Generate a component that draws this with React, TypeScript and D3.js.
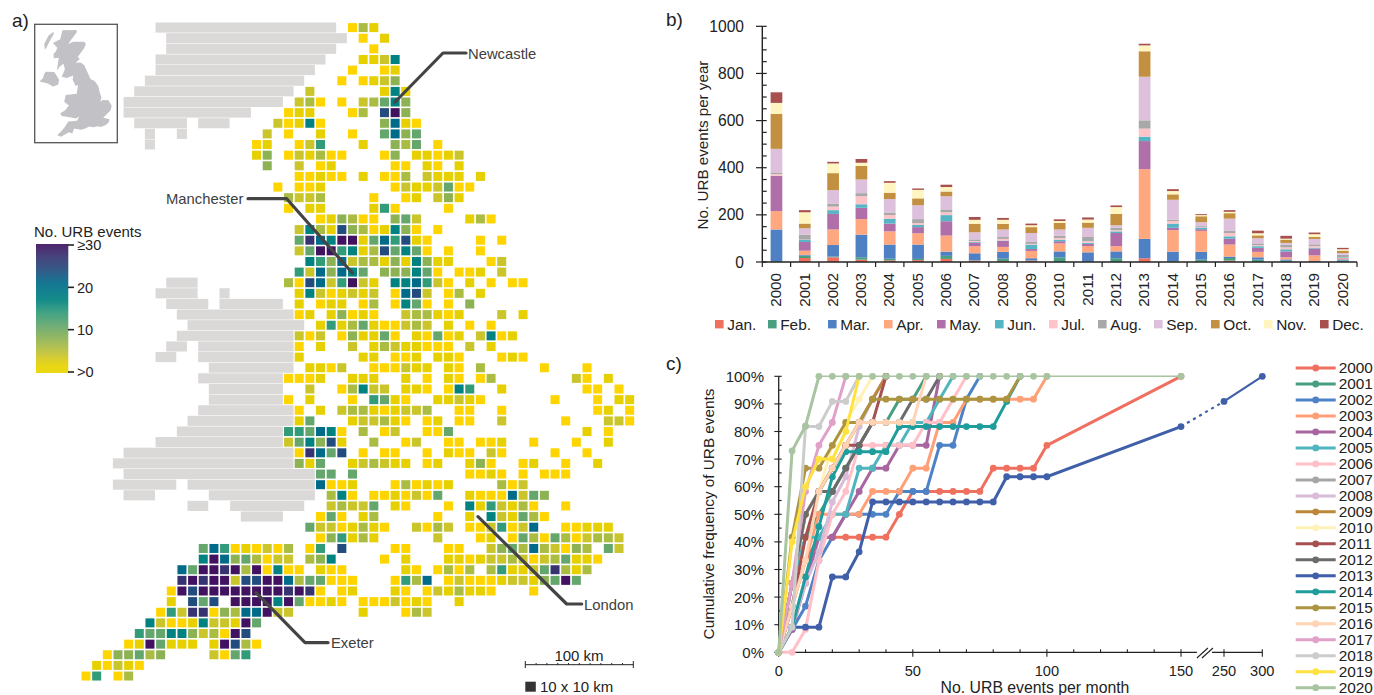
import React from 'react'
import * as d3 from 'd3'

// ---- panel a: gridded counts, one string per grid row, tokens are <column><level>
const eventRows = [
  '25a 26d 27b',
  '26a 28b',
  '27a',
  '26b 27b 28c 29h',
  '25a 28a 29b',
  '24a 26a 27b 28c 29e',
  '21c 28b 29h 30b',
  '20c 21d 22a 24a 26c 27d 28f 29h 30e',
  '19a 20b 21b 25a 26d 28j 29l 30e',
  '18c 19a 20b 21h 22a 28e 29i 30b 31a',
  '17c 19a 22b 25a 28f 29i 30e 31f',
  '16a 17b 20a 21c 22g 26b 29e 30d 31f 33a',
  '16b 17e 19a 20c 21b 22d 23a 24a 28a 29e 31b 32b 33a 34b 35c',
  '17e 20c 22a 23b 29a 30a 32b 33a 35b',
  '20a 21a 22b 23a 24a 26b 28a 29a 30d 32c 33b 34b 35b 37b',
  '18a 20a 21a 22b 29a 30c 31b 32b 33c 34f 35a 36a',
  '19d 20c 21c 22d 27a 30a 31b 33c 34e 35b',
  '19a 21b 22b 27b 28g 29a 34a',
  '22a 23b 24e 25d 26a 27a 29e 30f 31c 36b 37d 38a',
  '20c 21h 22d 23b 24j 25e 26d 27a 28b 29h 30e 31a 33a',
  '20f 21k 22i 23h 24l 25l 26b 27f 28i 29g 30j 31b 32a 37a 39a',
  '20c 21f 22l 23l 24g 25h 26b 27d 28j 29f 30h 31f 32a 34a 37a',
  '21h 22g 23e 24i 25c 26d 27d 28b 29e 30b 31h 32e 33b 34b 38a 39c',
  '20g 21c 22i 23e 24i 25h 26f 28e 29e 30e 31h 32f 33a 35a 36a 37b 39c',
  '19d 20a 21j 22i 23c 24g 25l 26c 27b 29h 30h 31i 32g 33c 34a 36b 38a 40a 41a',
  '20b 21h 22c 23a 24b 25c 26b 27c 29a 30i 31j 32c 34a 35d 37b',
  '20b 22a 23b 24b 26a 27d 29a 30h 31f 32a 34a 36e',
  '20a 21b 23b 24e 25a 26b 27a 30c 31d 32d 33b 34a 35b 39c 41b',
  '22b 23g 24b 25d 26f 27b 28a 29a 30c 31d 32c 34b 36a 38a',
  '20c 21a 22c 24a 25e 26b 27b 28f 29a 31b 32a 33f 34a 35b 37c 38h 39a 40b',
  '20a 22b 25c 27b 28d 29c 30b 31b 32a 33a 34a 36c 38b',
  '20b 26b 27b 29a 30a 31b 33b 34b 35a 39a 40b 41a',
  '21b 22b 23a 24c 27a 28a 29a 30c 31b 32b 34b 35a 37d 43a 47a',
  '19a 20a 21a 22b 25b 26b 27b 30b 32a 34b 35a 37a 38d 46c 47a 49b',
  '21c 24a 25d 26h 27c 28c 30b 31b 32a 34a 35h 36g 39b 47a 48a 50a',
  '19a 21b 25a 27g 28f 29b 30a 33b 34b 35c 36b 37a 44a 48a 50b 51b',
  '20a 22b 24c 25d 26d 27b 28a 29b 30c 31c 32d 35a 36a 39a 48a 49b 51a',
  '20b 21f 25b 26c 27c 28d 29b 30a 32a 33b 35a 36a 39c 45a 49c 50c 51a',
  '19g 20g 21f 22i 23h 24a 26d 28a 29c 32a 33a 34f 47b 49a',
  '19c 20f 21h 22e 23j 24b 27d 30a 31c 34a 35a 37a 38a 39b 42a 46a 49b',
  '20a 21k 22i 23f 24j 26a 28a 29a 32a 34b 35a 36a 38c 39a 44a 47a',
  '20e 21b 22f 25b 26c 27d 28c 29b 30b 32a 33b 36b 37e 38a 41a 42b 45a 48b',
  '22f 23f 25f 36a 37a 38b 39a 41a 43a 44a 45a',
  '22i 23a 24a 25b 29a 30d 31a 32b 33a 34b 39d 40a 41c',
  '23d 24h 25a 27a 28a 29b 30a 31c 32a 33f 36b 37a 38a 39a 40i 41c 42f 43e',
  '23c 24d 25c 26c 27f 29b 30a 34a 36h 37b 38g 39c 40b 41d 42a 45a',
  '22a 23f 24a 26b 27d 33a 36b 38h 39c 40b 41f 42d 43a',
  '21f 22c 23c 24a 25b 26d 27b 28a 31c 32a 33d 34c 36a 37a 38c 39g 40a 41c 42i 45a 46a 47b 48b 49b',
  '22a 23e 24g 25b 26d 27b 33c 37a 38b 40a 41f 42d 43a 44f 45d 46a 47c 48d 49d 50c',
  '11f 12i 13g 14a 15b 16a 17c 18a 19d 21a 22g 24j 29a 30a 34a 35a 38c 39e 40f 41d 42i 43d 44c 45a 46e 47d 49f 50c',
  '11h 12l 13i 14e 15f 16d 17a 18c 19c 21d 22e 23h 28a 30b 34b 35b 36a 37b 38c 39c 40d 41c 42a 43c 44d 45f 46b 47b 48a',
  '9i 10f 11l 12l 13k 14l 15d 16l 17a 18h 19a 20a 22b 23a 24a 30b 31a 33a 34d 35a 36d 38d 39g 40b 41b 42c 43f 44k 45d 46b 47d',
  '9k 10l 11k 12l 13l 14c 15j 16j 17l 18l 19i 20d 21f 22f 23a 24a 25a 29a 30g 31d 32i 34a 35c 36a 37a 38a 39b 40c 41c 42b 43e 44f 45l 46f',
  '8a 9l 10j 11l 12l 13l 14l 15l 16l 17l 18l 19k 20l 21k 22a 24a 25b 29b 30a 32a 33c 34b 35d 36b 37b 38a 42a',
  '8b 10j 11f 12j 14l 15l 16l 17l 18h 19l 20f 21a 22a 23b 24a 26a 27a 28a 29c 30a 31b 32a 35b',
  '7a 8g 9c 10k 11k 12a 13e 14d 15i 16i 17l 18c 19c 26b 30a 31d 32c',
  '6h 7c 8a 9a 10b 11h 12c 13c 14b 15l 16f',
  '5g 6f 7f 8h 9h 10e 11c 12d 13a 14l 15j',
  '4a 5b 6l 7f 8b 9b 10b 12b 13l 14j 15d 16a',
  '2a 3e 4e 5f 6d 7e 12c 13a 14f 15g',
  '1b 2a 3c 4b 5a',
  '0a 1g 3a 4d',
]

// grey land without data, runs of columns per grid row
const landRows = [
  '7-23', '8-24', '8-23', '7-22', '7-21', '6-20', '5-19', '4-18', '4-15', '5-9 11-13', '6-6 9-9', '6-6',
  ...Array(12).fill(''),
  '8-10', '7-10 13-13', '8-11 13-18', '9-19', '10-20', '9-19', '8-9 11-19', '7-8 11-19', '12-19', '11-18', '12-18',
  '12-18', '11-19', '10-19', '9-18', '7-18', '4-19', '3-19', '4-21', '3-8 10-21', '4-6 12-21', '10-11 14-20', '15-18',
]

const levelCounts = { a: 1, b: 2, c: 4, d: 6, e: 8, f: 11, g: 14, h: 17, i: 21, j: 24, k: 27, l: 30 }
const colorDomain = [1, 2, 4, 6, 8, 11, 14, 17, 21, 24, 27, 30]
const colorRange = ['#ffd500', '#e6d000', '#cbc52c', '#abbc42', '#8db254', '#64a66c', '#329b79', '#008280', '#006a89', '#234c7e', '#363370', '#401260']
const colorTicks = [{ v: 30, t: '≥30' }, { v: 20, t: '20' }, { v: 10, t: '10' }, { v: 0, t: '>0' }]

// inset outlines, lon / lat
const britainOutline = [
  [-5.7, 50.07], [-5.2, 49.96], [-4.1, 50.33], [-3.64, 50.22], [-3.4, 50.62], [-2.45, 50.52], [-1.95, 50.6], [-1.3, 50.8],
  [-0.8, 50.72], [-0.1, 50.82], [0.25, 50.74], [0.97, 50.91], [1.38, 51.15], [1.45, 51.38], [0.6, 51.5], [1.0, 51.75],
  [1.6, 52.1], [1.76, 52.48], [1.3, 52.93], [0.5, 52.95], [0.2, 52.8], [0.35, 53.15], [0.1, 53.6], [-0.1, 54.1],
  [-0.6, 54.49], [-1.15, 54.65], [-1.4, 55.0], [-2.0, 55.77], [-2.5, 56.0], [-3.2, 55.98], [-2.6, 56.28], [-2.9, 56.46],
  [-2.05, 57.15], [-1.78, 57.5], [-2.0, 57.7], [-3.5, 57.7], [-4.2, 57.5], [-3.8, 57.85], [-3.05, 58.45], [-3.05, 58.65],
  [-5.0, 58.63], [-5.3, 57.9], [-6.3, 57.6], [-5.7, 57.2], [-5.9, 56.9], [-6.2, 56.73], [-6.2, 56.35], [-5.5, 56.4],
  [-5.75, 55.35], [-5.3, 55.7], [-4.85, 55.9], [-4.65, 55.45], [-5.1, 54.85], [-4.4, 54.75], [-3.5, 54.95], [-3.6, 54.6],
  [-3.2, 54.1], [-2.85, 54.15], [-3.05, 53.45], [-4.55, 53.35], [-4.75, 52.8], [-4.1, 52.5], [-4.65, 52.1], [-5.3, 51.88],
  [-5.1, 51.65], [-4.0, 51.55], [-3.15, 51.45], [-2.7, 51.6], [-3.0, 51.25], [-4.2, 51.2], [-4.55, 50.85], [-5.0, 50.5],
]
const irelandOutline = [
  [-7.3, 55.25], [-6.1, 55.22], [-5.45, 54.6], [-5.6, 54.2], [-6.3, 54.05], [-7.0, 54.3], [-8.15, 54.45], [-7.7, 54.7], [-7.5, 55.05],
]
const hebridesOutline = [[-6.2, 58.5], [-6.9, 58.2], [-7.5, 57.5], [-7.4, 57.05], [-7.2, 57.2], [-6.6, 57.9], [-6.2, 58.3]]

// ---- panel b
const monthNames = ['Jan.', 'Feb.', 'Mar.', 'Apr.', 'May.', 'Jun.', 'Jul.', 'Aug.', 'Sep.', 'Oct.', 'Nov.', 'Dec.']
const monthColors = ['#f0705f', '#4a9f80', '#4f80c4', '#ffa880', '#b06fa8', '#55b5c4', '#ffc4c8', '#a8a8a8', '#dcc0dc', '#c29040', '#fff5c0', '#a85050']
const legendSwatchX = [715, 768, 828, 884, 937, 995, 1049, 1098, 1154, 1211, 1264, 1320]
const years = d3.range(2000, 2021).map(String)
// one row per year, Jan..Dec
const monthlyEvents = [
  [0, 3, 135, 78, 149, 1, 7, 7, 100, 148, 47, 45],
  [17, 10, 3, 18, 37, 9, 1, 21, 27, 20, 48, 9],
  [20, 3, 49, 66, 66, 16, 15, 12, 58, 72, 41, 7],
  [10, 10, 96, 66, 48, 15, 34, 13, 58, 58, 13, 16],
  [7, 7, 60, 56, 33, 21, 15, 11, 57, 27, 42, 7],
  [8, 5, 61, 48, 26, 9, 8, 17, 59, 29, 36, 6],
  [13, 13, 18, 68, 61, 26, 12, 12, 56, 20, 19, 10],
  [6, 1, 30, 30, 15, 3, 4, 7, 30, 36, 17, 12],
  [4, 10, 29, 21, 25, 2, 7, 8, 32, 24, 17, 8],
  [6, 1, 9, 31, 8, 19, 3, 8, 38, 25, 8, 7],
  [0, 20, 25, 34, 9, 7, 7, 9, 27, 28, 8, 7],
  [0, 3, 38, 27, 9, 5, 6, 18, 39, 22, 13, 9],
  [0, 16, 29, 22, 56, 7, 5, 11, 10, 48, 29, 7],
  [16, 0, 82, 296, 119, 19, 34, 35, 185, 108, 25, 7],
  [0, 3, 41, 91, 10, 18, 11, 6, 84, 23, 14, 8],
  [1, 9, 33, 89, 7, 7, 2, 4, 17, 25, 5, 4],
  [6, 11, 6, 51, 25, 10, 14, 9, 52, 23, 6, 7],
  [0, 10, 10, 23, 17, 7, 4, 8, 22, 12, 9, 11],
  [0, 6, 5, 9, 25, 9, 8, 12, 7, 14, 4, 12],
  [0, 0, 4, 24, 29, 4, 6, 8, 23, 8, 12, 7],
  [0, 6, 5, 5, 1, 3, 1, 10, 7, 10, 6, 6],
]

// ---- panel c, values at 0, 5, 10 ... 100, 150, 250, 300 events per month
const binEdges = [...d3.range(0, 101, 5), 150, 250, 300]
const cum2000 = [0, 16.7, 33.3, 41.7, 41.7, 41.7, 41.7, 41.7, 41.7, 50, 58.3, 58.3, 58.3, 58.3, 58.3, 58.3, 66.7, 66.7, 66.7, 66.7, 75, 100]
const cum2001 = [0, 25, 41.7, 50, 58.3, 66.7, 75, 83.3, 83.3, 91.7, 91.7, 100]
const cum2002 = [0, 8.3, 16.7, 33.3, 41.7, 50, 50, 50, 50, 58.3, 58.3, 58.3, 75, 75, 91.7, 100]
const cum2003 = [0, 16.7, 33.3, 50, 50, 50, 50, 58.3, 58.3, 58.3, 66.7, 66.7, 83.3, 83.3, 91.7, 91.7, 91.7, 91.7, 91.7, 91.7, 100]
const cum2004 = [0, 8.3, 25, 41.7, 41.7, 50, 58.3, 66.7, 66.7, 75, 75, 75, 100]
const cum2005 = [0, 25, 41.7, 41.7, 50, 50, 66.7, 66.7, 75, 75, 83.3, 83.3, 91.7, 100]
const cum2006 = [0, 0, 8.3, 33.3, 50, 58.3, 75, 75, 75, 75, 75, 83.3, 83.3, 91.7, 100]
const cum2007 = [0, 25, 50, 58.3, 66.7, 75, 83.3, 91.7, 100]
const cum2008 = [0, 9.1, 25, 36.4, 54.5, 63.6, 81.8, 91.7, 100]
const cum2009 = [0, 25, 50, 58.3, 66.7, 75, 83.3, 91.7, 100]
const cum2010 = [0, 25, 50, 58.3, 75, 83.3, 91.7, 100]
const cum2011 = [0, 16.7, 41.7, 58.3, 66.7, 75, 75, 83.3, 100]
const cum2012 = [0, 25, 50, 58.3, 58.3, 66.7, 75, 83.3, 83.3, 83.3, 91.7, 91.7, 100]
const cum2013 = [0, 9.1, 9.1, 9.1, 27.3, 27.3, 36.4, 54.5, 54.5, 54.5, 54.5, 54.5, 54.5, 54.5, 54.5, 54.5, 54.5, 63.6, 63.6, 63.6, 63.6, 81.8, 90.9, 100]
const cum2014 = [0, 9.1, 27.3, 45.5, 63.6, 72.7, 72.7, 72.7, 72.7, 81.8, 81.8, 81.8, 81.8, 81.8, 81.8, 81.8, 81.8, 90.9, 100]
const cum2015 = [0, 41.7, 66.7, 66.7, 75, 83.3, 83.3, 91.7, 91.7, 91.7, 91.7, 91.7, 91.7, 91.7, 91.7, 91.7, 91.7, 91.7, 100]
const cum2016 = [0, 16.7, 33.3, 58.3, 66.7, 75, 83.3, 83.3, 83.3, 83.3, 83.3, 100]
const cum2017 = [0, 25, 58.3, 75, 83.3, 100]
const cum2018 = [0, 9.1, 81.8, 81.8, 90.9, 90.9, 100]
const cum2019 = [0, 40, 60, 70, 70, 80, 100]
const cum2020 = [0, 73, 82, 100, 100, 100, 100, 100, 100, 100, 100, 100, 100, 100, 100, 100, 100, 100, 100, 100, 100, 100]
const cumulativeSeries = [cum2000, cum2001, cum2002, cum2003, cum2004, cum2005, cum2006, cum2007, cum2008, cum2009, cum2010, cum2011, cum2012, cum2013, cum2014, cum2015, cum2016, cum2017, cum2018, cum2019, cum2020]
const yearColors = ['#f0705f', '#479e80', '#4d82c6', '#ff9f78', '#a8659f', '#4fb6c0', '#ffc0c8', '#a6a6a6', '#d9bcd9', '#bd873a', '#fff2b8', '#a65050', '#6b6b6b', '#3f5fa8', '#1f9c9c', '#ad9440', '#ffd3b3', '#e0a0c8', '#cccccc', '#ffe23f', '#a8c4a0']
const axisBreakEvents = [187, 222]

const FONT = '"Liberation Sans", Arial, sans-serif'
const INK = '#222'
const LABEL = '#404040'

const parseTokens = (row) => (row ? row.split(' ') : [])

function MapPanel() {
  const col = d3.scaleLinear().domain([0, 1]).range([86, 96.66])
  const row = d3.scaleLinear().domain([0, 1]).range([27.6, 38.23])
  const color = d3.scaleLinear().domain(colorDomain).range(colorRange).clamp(true)
  const barY = d3.scaleLinear().domain([0, 30]).range([372, 245])
  const lon = d3.scaleLinear().domain([-5.7, 1.76]).range([57.3, 111.7])
  const lat = d3.scaleLinear().domain([58.65, 49.96]).range([30, 136.7])
  const outline = d3.line().x((d) => lon(d[0])).y((d) => lat(d[1])).curve(d3.curveLinearClosed)
  const leader = (pts) => d3.line()(pts)
  const cell = 9

  return (
    <g>
      <defs>
        <linearGradient id="countRamp" x1="0" y1="1" x2="0" y2="0">
          <stop offset="0" stopColor="#e8d400" />
          <stop offset="0.05" stopColor="#e8d400" />
          {d3.range(3, 31).map((v) => (
            <stop key={v} offset={v / 30} stopColor={color(v)} />
          ))}
        </linearGradient>
      </defs>

      {landRows.map((runs, r) =>
        parseTokens(runs).map((run) => {
          const [a, b] = run.split('-').map(Number)
          return (
            <rect
              key={`${r}-${a}`}
              x={col(a) - 5.1}
              y={row(r) - 5.1}
              width={col(b) - col(a) + 10.1}
              height={10.1}
              fill="#dbd8d8"
            />
          )
        }),
      )}

      {eventRows.map((tokens, r) =>
        parseTokens(tokens).map((t) => {
          const c = parseInt(t, 10)
          const count = levelCounts[t[t.length - 1]]
          return (
            <rect
              key={`${r}-${t}`}
              x={col(c) - cell / 2}
              y={row(r) - cell / 2}
              width={cell}
              height={cell}
              fill={color(count)}
            />
          )
        }),
      )}

      <g fill="none" stroke="#444" strokeWidth={3.2} strokeLinecap="round" strokeLinejoin="round">
        <path d={leader([[395, 102], [443, 53], [466, 53]])} />
        <path d={leader([[248, 198.7], [286.7, 198.7], [352.3, 273]])} />
        <path d={leader([[478, 516.7], [566.7, 604], [581.7, 604]])} />
        <path d={leader([[256, 592.7], [305, 642.7], [328, 642.7]])} />
      </g>
      <g fontFamily={FONT} fontSize={14.8} fill={LABEL}>
        <text x={468} y={59}>Newcastle</text>
        <text x={166} y={204}>Manchester</text>
        <text x={584} y={610}>London</text>
        <text x={331} y={648}>Exeter</text>
      </g>

      <rect x={34.7} y={24.3} width={82.6} height={118.4} fill="#fff" stroke="#555" strokeWidth={1.3} />
      <path d={outline(britainOutline)} fill="#c2c2c6" />
      <path d={outline(irelandOutline)} fill="#c2c2c6" />
      <path d={outline(hebridesOutline)} fill="#c2c2c6" />

      <text x={34} y={236.5} fontFamily={FONT} fontSize={15} fill={INK}>No. URB events</text>
      <rect x={36} y={244} width={32.3} height={129} fill="url(#countRamp)" opacity={0.92} />
      {colorTicks.map((d) => (
        <g key={d.t}>
          <line x1={68} x2={74} y1={barY(d.v)} y2={barY(d.v)} stroke={INK} strokeWidth={1.6} />
          <text x={77} y={barY(d.v) + 5.3} fontFamily={FONT} fontSize={14.6} fill={INK}>{d.t}</text>
        </g>
      ))}

      <text x={579} y={661} textAnchor="middle" fontFamily={FONT} fontSize={15} fill={INK}>100 km</text>
      <line x1={525.3} x2={633.3} y1={664.7} y2={664.7} stroke={INK} strokeWidth={1} />
      {d3.range(0, 11).map((k) => {
        const x = 525.3 + k * 10.8
        const end = k === 0 || k === 10
        return <line key={k} x1={x} x2={x} y1={end ? 661 : 663} y2={end ? 668 : 664.7} stroke={INK} strokeWidth={1} />
      })}
      <rect x={525.3} y={681.7} width={10.5} height={10} fill="#333" />
      <text x={540} y={691.7} fontFamily={FONT} fontSize={15} fill={INK}>10 x 10 km</text>

      <text x={12} y={27} fontFamily={FONT} fontSize={19} fill={INK}>a)</text>
    </g>
  )
}

function BarPanel() {
  const x = d3.scaleBand().domain(years).range([762.3, 1357]).paddingInner(0.586).paddingOuter(0.293)
  const y = d3.scaleLinear().domain([0, 1000]).range([262, 26.3])
  const table = years.map((year, i) => {
    const row = { year }
    monthNames.forEach((m, j) => {
      row[m] = monthlyEvents[i][j]
    })
    return row
  })
  const layers = d3.stack().keys(monthNames)(table)
  const edge = (year) => x(year) - (x.step() - x.bandwidth()) / 2

  return (
    <g fontFamily={FONT} fill={INK}>
      {layers.map((layer, j) => (
        <g key={layer.key} fill={monthColors[j]}>
          {layer.map((d) => (
            <rect key={d.data.year} x={x(d.data.year)} y={y(d[1])} width={x.bandwidth()} height={y(d[0]) - y(d[1])} />
          ))}
        </g>
      ))}

      <line x1={762.3} x2={762.3} y1={26.3} y2={262} stroke={INK} strokeWidth={1.4} />
      {d3.range(0, 1001, 50).map((v) => (
        <line key={v} x1={v % 200 === 0 ? 756 : 762.3} x2={766.7} y1={y(v)} y2={y(v)} stroke={INK} strokeWidth={1.2} />
      ))}
      {d3.range(0, 1001, 200).map((v) => (
        <text key={v} x={744} y={y(v) + 5.6} textAnchor="end" fontSize={15.6}>{v}</text>
      ))}

      <line x1={762.3} x2={1357} y1={262} y2={262} stroke={INK} strokeWidth={1.4} />
      {years.map((year) => (
        <line key={year} x1={edge(year)} x2={edge(year)} y1={262} y2={267} stroke={INK} strokeWidth={1.2} />
      ))}
      <line x1={1357} x2={1357} y1={262} y2={267} stroke={INK} strokeWidth={1.2} />
      {years.map((year) => (
        <text
          key={year}
          transform={`translate(${x(year) + x.bandwidth() / 2 - 0.6},273) rotate(-90)`}
          dy="0.35em"
          textAnchor="end"
          fontSize={15.2}
        >
          {year}
        </text>
      ))}

      <text transform="translate(708,145) rotate(-90)" textAnchor="middle" fontSize={15.2}>No. URB events per year</text>

      {monthNames.map((m, j) => (
        <g key={m}>
          <rect x={legendSwatchX[j]} y={320} width={8.6} height={8.4} fill={monthColors[j]} />
          <text x={legendSwatchX[j] + 12.2} y={330} fontSize={15.4}>{m}</text>
        </g>
      ))}

      <text x={666} y={26} fontSize={19}>b)</text>
    </g>
  )
}

function CumulativePanel() {
  const x = d3.scaleLinear().domain([0, 150, 250, 300]).range([778.7, 1181, 1224, 1262.3])
  const y = d3.scaleLinear().domain([0, 100]).range([652.3, 376.3])
  const line = d3.line().x((d) => x(d[0])).y((d) => y(d[1]))
  const legendY = d3.scaleLinear().domain([0, 20]).range([368, 687.7])

  return (
    <g fontFamily={FONT} fill={INK}>
      <line x1={778.7} x2={778.7} y1={376.3} y2={652.3} stroke={INK} strokeWidth={1.3} />
      {d3.range(0, 101, 5).map((v) => (
        <line key={v} x1={v % 10 === 0 ? 774.3 : 778.7} x2={781.7} y1={y(v)} y2={y(v)} stroke={INK} strokeWidth={1.1} />
      ))}
      {d3.range(0, 101, 10).map((v) => (
        <text key={v} x={764} y={y(v) + 5.4} textAnchor="end" fontSize={15}>{v}%</text>
      ))}

      <line x1={778.7} x2={x(axisBreakEvents[0])} y1={652.3} y2={652.3} stroke={INK} strokeWidth={1.3} />
      <line x1={x(axisBreakEvents[1])} x2={1262.3} y1={652.3} y2={652.3} stroke={INK} strokeWidth={1.3} />
      {d3.range(10, 150, 10).filter((v) => v % 50 !== 0).map((v) => (
        <line key={v} x1={x(v)} x2={x(v)} y1={649.3} y2={652.3} stroke={INK} strokeWidth={1.1} />
      ))}
      {[0, 50, 100, 150, 250, 300].map((v) => (
        <g key={v}>
          <line x1={x(v)} x2={x(v)} y1={649.3} y2={656.7} stroke={INK} strokeWidth={1.1} />
          <text x={x(v)} y={676} textAnchor="middle" fontSize={14.6}>{v}</text>
        </g>
      ))}
      {axisBreakEvents.map((v, i) => (
        <line key={v} x1={x(v) - (i ? 10 : 0)} x2={x(v) + (i ? 1 : 11)} y1={658} y2={648} stroke={INK} strokeWidth={1.1} />
      ))}

      <text x={1035} y={693} textAnchor="middle" fontSize={15.8}>No. URB events per month</text>
      <text transform="translate(714,514) rotate(-90)" textAnchor="middle" fontSize={15.3}>Cumulative frequency of URB events</text>

      {cumulativeSeries.map((values, i) => {
        const pts = values.map((v, k) => [binEdges[k], v])
        const color = yearColors[i]
        // 2013 has a dotted stretch over the axis break, 2020 thins out along the 100% line
        const isDotted = i === 13
        const isFlatTop = i === 20
        return (
          <g key={i}>
            {isDotted ? (
              <>
                <path d={line(pts.slice(0, 22))} fill="none" stroke={color} strokeWidth={3} />
                <path d={line(pts.slice(21, 23))} fill="none" stroke={color} strokeWidth={2.2} strokeDasharray="3 4" />
                <path d={line(pts.slice(22))} fill="none" stroke={color} strokeWidth={2.2} />
              </>
            ) : isFlatTop ? (
              <>
                <path d={line(pts.slice(0, 4))} fill="none" stroke={color} strokeWidth={3} />
                <path d={line(pts.slice(3))} fill="none" stroke={color} strokeWidth={1.6} />
              </>
            ) : (
              <path d={line(pts)} fill="none" stroke={color} strokeWidth={3} strokeLinejoin="round" />
            )}
            {pts.map((p, k) => (
              <circle key={k} cx={x(p[0])} cy={y(p[1])} r={3.4} fill={color} />
            ))}
          </g>
        )
      })}

      {years.map((year, i) => (
        <g key={year}>
          <line x1={1295.7} x2={1335.7} y1={legendY(i)} y2={legendY(i)} stroke={yearColors[i]} strokeWidth={3} />
          <circle cx={1315.7} cy={legendY(i)} r={3.4} fill={yearColors[i]} />
          <text x={1338.7} y={legendY(i) + 5.4} fontSize={15.4}>{year}</text>
        </g>
      ))}

      <text x={666} y={370} fontSize={19}>c)</text>
    </g>
  )
}

export default function App() {
  return (
    <svg
      width={1374}
      height={695}
      viewBox="0 0 1374 695"
      style={{ position: 'absolute', left: 0, top: 0, display: 'block', background: '#fff' }}
    >
      <MapPanel />
      <BarPanel />
      <CumulativePanel />
    </svg>
  )
}
